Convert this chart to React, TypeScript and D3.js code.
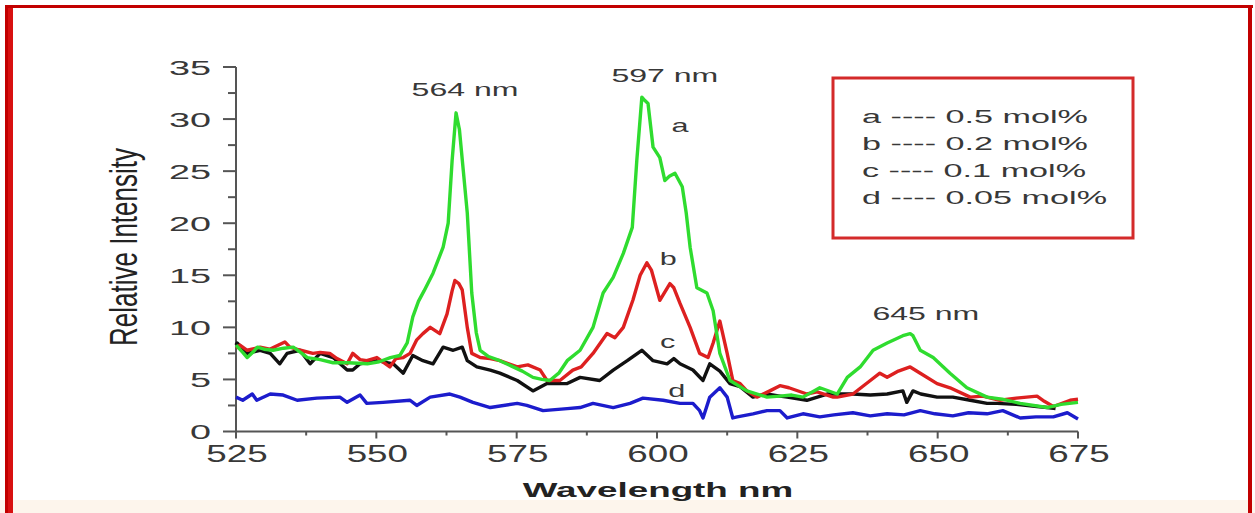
import React from "react";
import * as d3 from "d3";

// ---- data (wavelength nm, relative intensity) ----
const seriesA: [number, number][] = [
  [525, 8.3], [526.2, 7.6], [527, 7.1], [528, 7.6], [528.8, 8.1], [530, 7.9], [531.6, 7.8], [533.5, 8.0],
  [535.2, 8.1], [536.5, 7.6], [537.7, 7.1], [540, 6.9], [542.3, 6.6], [545, 6.6], [548.4, 6.5], [550.5, 6.7],
  [552.5, 7.1], [554.2, 7.3], [555.5, 8.5], [556.5, 11.0], [557.5, 12.5], [558.5, 13.5], [560.1, 15.2],
  [561.9, 17.7], [562.8, 20], [563.5, 26], [564.2, 30.6], [564.8, 29], [565.5, 25], [566.2, 21], [567.0, 13.3],
  [567.8, 9.5], [568.5, 7.8], [570, 7.2], [572.0, 6.8], [574, 6.3], [576, 5.8], [577.9, 5.2], [579.5, 5.0],
  [580.9, 4.9], [582.5, 5.6], [584.0, 6.8], [586.3, 7.8], [588.6, 10], [590.4, 13.3], [592.2, 14.8],
  [594.0, 17.1], [595.6, 19.6], [596.4, 26], [597.3, 32.1], [597.8, 31.8], [598.4, 31.5], [599.3, 27.3],
  [600.5, 26.3], [601.4, 24.1], [602.2, 24.5], [603.2, 24.8], [604.5, 23.5], [605.2, 21], [605.9, 17.7],
  [607.1, 13.8], [608.9, 13.3], [610.0, 11.6], [611.2, 7.5], [613.0, 4.9], [616.0, 3.9], [619.6, 3.3],
  [621.9, 3.4], [624, 3.5], [626.0, 3.3], [629.0, 4.2], [632.1, 3.6], [633.9, 5.2], [636.2, 6.2], [638.5, 7.8],
  [641.0, 8.5], [643.8, 9.2], [645.1, 9.4], [645.6, 9.2], [646.9, 7.8], [649.2, 7.1], [652.2, 5.6],
  [655.2, 4.2], [658.8, 3.3], [661.5, 3.1], [664.7, 2.7], [669.5, 2.3], [672, 2.6], [675, 2.8],
];

const seriesB: [number, number][] = [
  [525, 8.0], [525.7, 8.3], [527, 7.8], [529.3, 8.1], [531, 7.9], [533.7, 8.6], [534.6, 8.1], [536.5, 7.8],
  [538.7, 7.5], [540, 7.6], [541.7, 7.5], [543, 7.0], [544.8, 6.5], [545.8, 7.5], [547.1, 6.9], [548.3, 6.8],
  [550.1, 7.1], [552.4, 6.2], [553.5, 7.0], [554.8, 7.1], [556, 7.5], [557.2, 8.8], [558.3, 9.4], [559.6, 10],
  [561.3, 9.4], [562.6, 11.3], [563.5, 13.5], [564.0, 14.5], [564.7, 14.2], [565.3, 13.6], [566.2, 10],
  [567.0, 7.5], [568.5, 7.1], [570.3, 7.0], [572.0, 6.8], [575.1, 6.2], [577, 6.4], [579.2, 5.9], [580.4, 4.9],
  [582.7, 4.9], [585.0, 5.9], [586.5, 6.2], [588.6, 7.5], [591.1, 9.4], [592.5, 9.0], [594.0, 10],
  [595.7, 12.6], [597, 15], [598.2, 16.2], [599, 15.5], [600.5, 12.6], [602.3, 14.2], [603, 13.8],
  [604.1, 12.3], [605.9, 10], [607.6, 7.5], [609.1, 7.1], [610.0, 8.5], [611.2, 10.6], [612.5, 7.5],
  [613.5, 4.9], [614.8, 4.6], [616.0, 3.9], [617.8, 3.3], [620.1, 3.9], [621.9, 4.4], [623.5, 4.2],
  [626.7, 3.6], [628.5, 3.8], [631.4, 3.3], [632.1, 3.3], [634.9, 3.6], [638.0, 4.9], [639.7, 5.6],
  [641.0, 5.2], [643, 5.8], [645.1, 6.2], [646.9, 5.6], [649.9, 4.6], [652.2, 4.2], [655.8, 3.3],
  [658, 3.4], [661.1, 3.0], [664, 3.2], [667.7, 3.4], [669, 2.9], [670.6, 2.4], [673.6, 3.0], [675, 3.1],
];

const seriesC: [number, number][] = [
  [525, 8.3], [525.2, 8.5], [527, 7.5], [529.3, 7.8], [531.1, 7.5], [532.8, 6.5], [534.1, 7.5], [536.4, 7.8],
  [538.2, 6.5], [540, 7.5], [542.3, 7.1], [544.8, 5.9], [545.8, 5.9], [547.1, 6.5], [550.1, 6.8], [553.0, 6.5],
  [554.8, 5.6], [556.5, 7.3], [558.3, 6.8], [560.1, 6.5], [561.9, 8.1], [563.7, 7.8], [565.3, 8.1],
  [566.2, 6.8], [567.9, 6.2], [570.3, 5.9], [572.0, 5.6], [575.1, 4.9], [577.9, 3.9], [580.4, 4.6],
  [584.0, 4.6], [586.3, 5.2], [589.8, 4.9], [592.2, 5.9], [594.7, 6.8], [597.3, 7.8], [599.3, 6.8],
  [601.8, 6.5], [603, 7.0], [604.1, 6.5], [606.4, 5.9], [608.2, 4.9], [609.4, 6.5], [611.2, 5.8],
  [613, 4.6], [614.8, 4.3], [617.1, 3.3], [619.5, 3.6], [621.9, 3.4], [623.2, 3.3], [626.7, 3.0],
  [630.3, 3.6], [634.9, 3.6], [638, 3.5], [641, 3.6], [643.8, 3.9], [644.5, 2.8], [645.6, 3.9], [647, 3.6],
  [649.9, 3.3], [652.7, 3.3], [655.8, 3.0], [658.8, 2.7], [660.6, 2.7], [664, 2.6], [667.7, 2.4],
  [669.5, 2.3], [671, 2.2],
];

const seriesD: [number, number][] = [
  [525, 3.3], [526.2, 3.0], [527.9, 3.6], [528.7, 3.0], [531.1, 3.6], [533.4, 3.5], [535.9, 3.0],
  [539.4, 3.2], [543.5, 3.3], [544.8, 2.8], [547.1, 3.5], [548.3, 2.7], [551.2, 2.8], [556.0, 3.0],
  [557.2, 2.5], [559.6, 3.3], [563.1, 3.6], [564.9, 3.3], [567.2, 2.8], [570.3, 2.3], [575.1, 2.7],
  [576.8, 2.5], [579.7, 2.0], [584.0, 2.2], [586.3, 2.3], [588.6, 2.7], [592.2, 2.3], [595.2, 2.7],
  [597.5, 3.2], [601.1, 3.0], [604.1, 2.7], [606.4, 2.7], [607.6, 2.0], [608.2, 1.3], [609.4, 3.3],
  [611.2, 4.2], [612.5, 3.3], [613.5, 1.3], [614.3, 1.4], [617.1, 1.7], [619.6, 2.0], [621.9, 2.0],
  [623.2, 1.3], [626.0, 1.7], [629.0, 1.4], [631.5, 1.6], [634.9, 1.8], [638, 1.5], [641.0, 1.7],
  [644, 1.6], [646.9, 2.0], [649.5, 1.7], [652.7, 1.5], [655.5, 1.8], [658.8, 1.7], [661.6, 2.0],
  [664.7, 1.3], [667.5, 1.4], [670.6, 1.4], [673.1, 1.8], [675, 1.2],
];

const seriesColors = ["#2fdc2f", "#dd2020", "#111111", "#1c1ccc"];
const seriesLetters = ["a", "b", "c", "d"];
const legendLabels = ["a ---- 0.5 mol%", "b ---- 0.2 mol%", "c ---- 0.1 mol%", "d ---- 0.05 mol%"];
const peakLabels = ["564 nm", "597 nm", "645 nm"];
const peakAt: [number, number][] = [[565.8, 32.2], [601.4, 33.6], [647.9, 10.7]];
const letterAt: [number, number][] = [[604.1, 28.8], [602.0, 16.0], [601.9, 8.0], [603.5, 3.3]];
const xTicks = [525, 550, 575, 600, 625, 650, 675];
const yTicks = [0, 5, 10, 15, 20, 25, 30, 35];

const FONT = "'Liberation Sans', Arial, Helvetica, sans-serif";

const x = d3.scaleLinear().domain([525, 675]).range([236, 1078]);
const y = d3.scaleLinear().domain([0, 35]).range([431.5, 67]);

function SText(props: {
  x: number; y: number; size: number; sx: number; anchor?: string; weight?: string; fill?: string; children: any;
}) {
  const { anchor = "start", weight = "normal", fill = "#383838" } = props;
  return (
    <text
      transform={`translate(${props.x},${props.y}) scale(${props.sx},1)`}
      fontSize={props.size}
      textAnchor={anchor}
      fontWeight={weight}
      fill={fill}
      fontFamily={FONT}
    >
      {props.children}
    </text>
  );
}

export default function App() {
  const line = d3
    .line<[number, number]>()
    .x((d) => x(d[0]))
    .y((d) => y(d[1]));
  const drawOrder = [3, 2, 1, 0];
  const all = [seriesA, seriesB, seriesC, seriesD];
  const xMinor = d3.range(525, 675.01, 12.5).filter((v) => !xTicks.includes(v));
  const yMinor = d3.range(0, 35.01, 2.5).filter((v) => !yTicks.includes(v));
  const axisColor = "#555";

  return (
    <svg
      width={1255}
      height={513}
      style={{ position: "absolute", left: 0, top: 0, background: "#fff" }}
    >
      <rect x={0} y={0} width={1255} height={513} fill="#ffffff" />
      <rect x={0} y={500} width={1255} height={13} fill="#fdf5ec" />
      {/* outer frame */}
      <rect x={5} y={5} width={3} height={508} fill="#c20000" />
      <rect x={8} y={5} width={5} height={508} fill="#d81010" />
      <rect x={5} y={5} width={1248} height={3} fill="#c20000" />
      <rect x={1248} y={5} width={4} height={508} fill="#c20000" />

      {/* axes */}
      <line x1={236} x2={236} y1={y(35)} y2={y(0)} stroke={axisColor} strokeWidth={2} />
      <line x1={236} x2={x(675)} y1={y(0)} y2={y(0)} stroke={axisColor} strokeWidth={2} />
      {yTicks.map((t) => (
        <line key={"yt" + t} x1={223} x2={236} y1={y(t)} y2={y(t)} stroke={axisColor} strokeWidth={2} />
      ))}
      {yMinor.map((t) => (
        <line key={"ym" + t} x1={228} x2={236} y1={y(t)} y2={y(t)} stroke={axisColor} strokeWidth={2} />
      ))}
      {xTicks.map((t) => (
        <line key={"xt" + t} x1={x(t)} x2={x(t)} y1={y(0)} y2={y(0) + 7} stroke={axisColor} strokeWidth={2} />
      ))}
      {xMinor.map((t) => (
        <line key={"xm" + t} x1={x(t)} x2={x(t)} y1={y(0)} y2={y(0) + 4} stroke={axisColor} strokeWidth={2} />
      ))}
      {yTicks.map((t) => (
        <SText key={"yl" + t} x={211} y={y(t) + 7.5} size={21} sx={1.8} anchor="end">
          {String(t)}
        </SText>
      ))}
      {xTicks.map((t) => (
        <SText key={"xl" + t} x={x(t) + 1} y={462} size={23} sx={1.6} anchor="middle">
          {String(t)}
        </SText>
      ))}

      {/* axis titles */}
      <text
        transform="translate(137,247) scale(1.5,1) rotate(-90)"
        fontSize={26}
        textAnchor="middle"
        fill="#222"
        fontFamily={FONT}
      >
        Relative Intensity
      </text>
      <SText x={658} y={497} size={20} sx={1.84} anchor="middle" weight="bold" fill="#222">
        Wavelength nm
      </SText>

      {/* series */}
      {drawOrder.map((i) => (
        <path
          key={"s" + i}
          d={line(all[i]) || ""}
          fill="none"
          stroke={seriesColors[i]}
          strokeWidth={3.4}
          strokeLinejoin="round"
        />
      ))}

      {/* annotations */}
      {peakLabels.map((p, i) => (
        <SText key={"pk" + i} x={x(peakAt[i][0])} y={y(peakAt[i][1])} size={18} sx={1.78} anchor="middle">
          {p}
        </SText>
      ))}
      {seriesLetters.map((l, i) => (
        <SText key={"lt" + i} x={x(letterAt[i][0])} y={y(letterAt[i][1])} size={18} sx={1.7} anchor="middle">
          {l}
        </SText>
      ))}

      {/* legend */}
      <rect x={833} y={78} width={300} height={160} fill="#ffffff" stroke="#d42a2a" strokeWidth={3} />
      {legendLabels.map((l, i) => (
        <SText key={"lg" + i} x={862} y={123 + i * 27} size={18} sx={1.9}>
          {l}
        </SText>
      ))}
    </svg>
  );
}
